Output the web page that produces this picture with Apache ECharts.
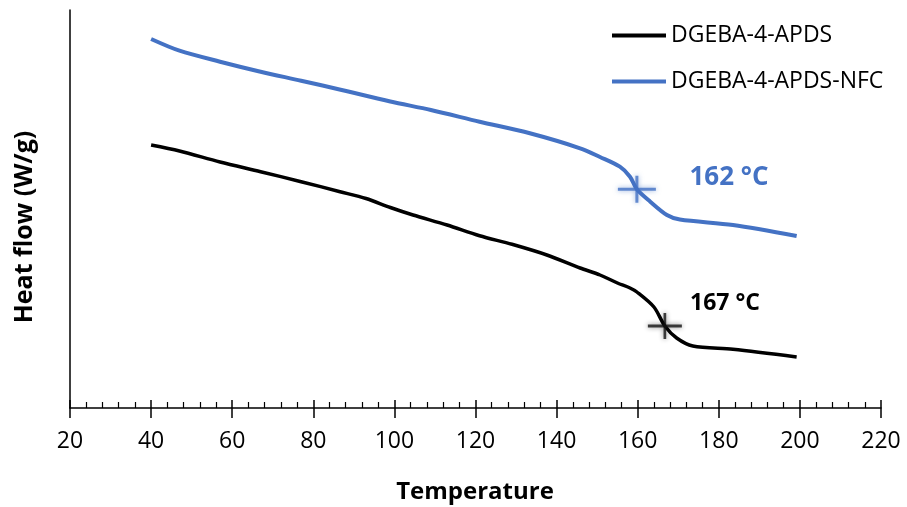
<!DOCTYPE html>
<html>
<head>
<meta charset="utf-8">
<script src="https://cdn.jsdelivr.net/npm/echarts@6/dist/echarts.min.js"></script>
<style>html,body{margin:0;padding:0;background:#fff}#c{width:907px;height:507px}</style>
</head>
<body>
<div id="c"></div>
<script>
const seriesNames = ['DGEBA-4-APDS', 'DGEBA-4-APDS-NFC'];
const xTicks = [20, 40, 60, 80, 100, 120, 140, 160, 180, 200, 220];
// Temperature (°C) values
const tempApds = [40, 47, 57, 67, 77, 86.6, 93, 99, 104.6, 113, 121, 129, 137.6, 145.8, 150.7, 155, 158.1, 159.8, 164, 166.7, 169.6, 173.6, 183.5, 199.2];
// Heat flow (arbitrary units)
const heatApds = [263, 257, 246, 236.3, 226.3, 216.3, 209.5, 200.5, 193, 183, 172.3, 163.7, 153, 140, 133, 125, 120, 116, 101, 82, 70, 62, 58.7, 51];
const tempNfc = [40, 47, 57, 67, 77, 87, 99, 109, 121, 133.4, 145.8, 150.7, 155.6, 158.1, 159.8, 163.1, 167.2, 170.4, 183.5, 199.2];
const heatNfc = [369, 357.3, 346.3, 336.3, 327.3, 318, 306.5, 298, 286.3, 274.7, 259.7, 251, 241.3, 231.3, 218.7, 206.3, 193, 188.5, 183, 172];
// Tg markers
const tgApds = [166.7, 82];
const tgNfc = [159.8, 218.7];
const tgLabels = ['167 °C', '162 °C'];

const FONT = 'Open Sans';
const blue = '#4472C4';
const crossPath = 'path://M0,12 H38 V15 H0 Z M17.5,0 H20.5 V27 H17.5 Z';

const chart = echarts.init(document.getElementById('c'), null, {renderer: 'canvas'});
chart.setOption({
  animation: false,
  textStyle: {fontFamily: FONT},
  grid: {left: 70, right: 26, top: 10, bottom: 99},
  legend: {
    orient: 'vertical', left: 607, top: 19,
    icon: 'rect',
    itemWidth: 54, itemHeight: 4, itemGap: 23,
    textStyle: {fontFamily: FONT, fontSize: 23, color: '#000'},
    data: seriesNames
  },
  xAxis: [{
    type: 'value', min: 20, max: 220, interval: 20, position: 'bottom',
    axisLine: {show: true, lineStyle: {color: '#000', width: 1.5}},
    axisTick: {show: true, inside: false, length: 10, lineStyle: {color: '#000', width: 1.5}},
    minorTick: {show: false},
    axisLabel: {color: '#000', fontSize: 23, fontFamily: FONT, margin: 22,
      formatter: v => xTicks.includes(v) ? String(v) : ''},
    splitLine: {show: false}
  }, {
    type: 'value', min: 20, max: 220, interval: 20, position: 'bottom', offset: 0,
    axisLine: {show: false},
    axisTick: {show: true, inside: true, length: 8, lineStyle: {color: '#000', width: 1.5}},
    minorTick: {show: true, splitNumber: 5, length: 6, lineStyle: {color: '#000', width: 1.2}},
    axisLabel: {show: false},
    splitLine: {show: false}
  }],
  yAxis: {
    type: 'value', min: 0, max: 398,
    axisLine: {show: true, lineStyle: {color: '#000', width: 1.5}},
    axisTick: {show: false}, axisLabel: {show: false}, splitLine: {show: false}
  },
  graphic: [
    {type: 'text', x: 475, y: 492, style: {text: 'Temperature', font: 'bold 24px "Open Sans"', fill: '#000', align: 'center', verticalAlign: 'middle'}},
    {type: 'text', x: 25, y: 227, rotation: Math.PI / 2, style: {text: 'Heat flow (W/g)', font: 'bold 25px "Open Sans"', fill: '#000', align: 'center', verticalAlign: 'middle'}},
    {type: 'text', x: 729, y: 178, style: {text: tgLabels[1], font: 'bold 26px "Open Sans"', fill: blue, align: 'center', verticalAlign: 'middle'}},
    {type: 'text', x: 725, y: 303, style: {text: tgLabels[0], font: 'bold 23px "Open Sans"', fill: '#000', align: 'center', verticalAlign: 'middle'}}
  ],
  series: [{
    name: seriesNames[0], type: 'line', smooth: 0.3, symbol: 'none',
    lineStyle: {color: '#000', width: 3.5}, itemStyle: {color: '#000'},
    data: tempApds.map((t, i) => [t, heatApds[i]]), z: 3
  }, {
    name: seriesNames[1], type: 'line', smooth: 0.3, symbol: 'none',
    lineStyle: {color: blue, width: 4}, itemStyle: {color: blue},
    data: tempNfc.map((t, i) => [t, heatNfc[i]]), z: 3
  }, {
    name: 'tgApds', type: 'scatter', symbol: crossPath, symbolSize: [34, 26],
    itemStyle: {color: '#111', shadowBlur: 5, shadowColor: 'rgba(0,0,0,0.6)'},
    data: [tgApds], z: 5, silent: true
  }, {
    name: 'tgNfc', type: 'scatter', symbol: crossPath, symbolSize: [38, 27],
    itemStyle: {color: blue, shadowBlur: 5, shadowColor: 'rgba(68,114,196,0.7)'},
    data: [tgNfc], z: 5, silent: true
  }]
});
</script>
</body>
</html>
